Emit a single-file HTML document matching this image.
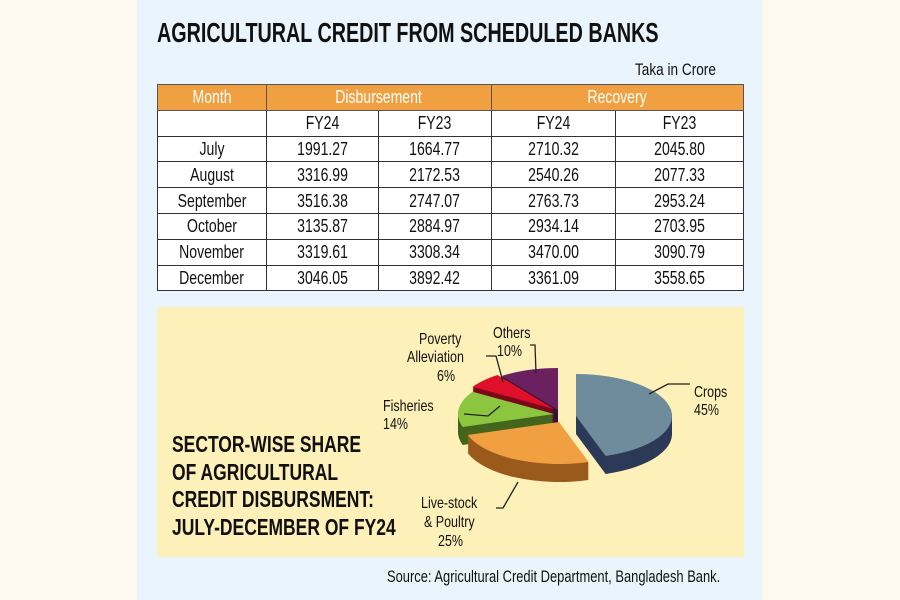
<!DOCTYPE html>
<html><head><meta charset="utf-8"><style>
body{margin:0;width:900px;height:600px;background:#fdf8f0;position:relative;overflow:hidden;font-family:"Liberation Sans",sans-serif;color:#111}
.panel{position:absolute;left:137px;top:0;width:625px;height:600px;background:#eaf4fc}
.t{position:absolute;white-space:nowrap;transform-origin:0 0}
table{position:absolute;left:157px;top:84px;border-collapse:collapse;background:#fff;font-size:18px}
td{border:1px solid #333;text-align:center;height:24.8px;padding:0;line-height:22px;white-space:nowrap}
td span{display:inline-block;transform:scaleX(.78)}
tr.h td{background:#f0a040;color:#fff;border-color:#555}
.yb{position:absolute;left:157px;top:307px;width:587px;height:250px;background:#fdf0b8}
.lbl{position:absolute;font-size:16px;text-align:center;line-height:18px;white-space:nowrap;transform:scaleX(.78);transform-origin:0 0}
</style></head><body>
<div class="panel"></div>
<div class="t" style="left:157px;top:17px;font-size:28px;font-weight:bold;transform:scaleX(.705)">AGRICULTURAL CREDIT FROM SCHEDULED BANKS</div>
<div class="t" style="left:635px;top:60px;font-size:17px;transform:scaleX(.8)">Taka in Crore</div>
<table>
<colgroup><col style="width:109px"><col style="width:112px"><col style="width:113px"><col style="width:124px"><col style="width:128px"></colgroup>
<tr class="h"><td><span>Month</span></td><td colspan="2"><span>Disbursement</span></td><td colspan="2"><span>Recovery</span></td></tr>
<tr><td></td><td><span>FY24</span></td><td><span>FY23</span></td><td><span>FY24</span></td><td><span>FY23</span></td></tr>
<tr><td><span>July</span></td><td><span>1991.27</span></td><td><span>1664.77</span></td><td><span>2710.32</span></td><td><span>2045.80</span></td></tr>
<tr><td><span>August</span></td><td><span>3316.99</span></td><td><span>2172.53</span></td><td><span>2540.26</span></td><td><span>2077.33</span></td></tr>
<tr><td><span>September</span></td><td><span>3516.38</span></td><td><span>2747.07</span></td><td><span>2763.73</span></td><td><span>2953.24</span></td></tr>
<tr><td><span>October</span></td><td><span>3135.87</span></td><td><span>2884.97</span></td><td><span>2934.14</span></td><td><span>2703.95</span></td></tr>
<tr><td><span>November</span></td><td><span>3319.61</span></td><td><span>3308.34</span></td><td><span>3470.00</span></td><td><span>3090.79</span></td></tr>
<tr><td><span>December</span></td><td><span>3046.05</span></td><td><span>3892.42</span></td><td><span>3361.09</span></td><td><span>3558.65</span></td></tr>
</table>
<div class="yb"></div>
<div class="t" style="left:172px;top:431px;font-size:23px;font-weight:bold;line-height:27.5px;transform:scaleX(.76)">SECTOR-WISE SHARE<br>OF AGRICULTURAL<br>CREDIT DISBURSMENT:<br>JULY-DECEMBER OF FY24</div>
<svg id="pie" width="900" height="600" style="position:absolute;left:0;top:0">
<g fill="none" stroke="#222" stroke-width="1.3">
<path d="M649,394 L668,384 L690,384"/>
<path d="M464,414 L488,416 L500,406"/>
<path d="M486,356 L496,356 L503,382"/>
<path d="M530,345 L535,345 L536,373"/>
<path d="M518,482 L503,508 L496,508"/>
</g>
</svg>
<div class="lbl" style="left:419px;top:331px">Poverty</div>
<div class="lbl" style="left:407px;top:349px">Alleviation</div>
<div class="lbl" style="left:437px;top:368px">6%</div>
<div class="lbl" style="left:493px;top:325px">Others</div>
<div class="lbl" style="left:497px;top:343px">10%</div>
<div class="lbl" style="left:694px;top:384px;text-align:left">Crops<br>45%</div>
<div class="lbl" style="left:383px;top:398px;text-align:left">Fisheries<br>14%</div>
<div class="lbl" style="left:421px;top:495px">Live-stock</div>
<div class="lbl" style="left:424px;top:514px">&amp; Poultry</div>
<div class="lbl" style="left:438px;top:533px">25%</div>
<div class="t" style="left:387px;top:567px;font-size:17px;transform:scaleX(.76)">Source: Agricultural Credit Department, Bangladesh Bank.</div>
<script>
(function(){
var svg=document.getElementById('pie'),ns='http://www.w3.org/2000/svg';
var cx=560,cy=413,rx=96,ry=42,D=18;
var s=[[0,162,'#6f8c9c','#2c3a58',16,3],[162,252,'#f0a040','#9a5a1c',-1,9],[252,302,'#8cc63f','#45651d',-6,1],[302,324,'#e0102a','#7a0a18',-6,-4],[324,360,'#6b2060','#3a1034',-2,-3]];
function pt(a,ox,oy,dy){var r=a*Math.PI/180;return [cx+ox+rx*Math.sin(r),cy+oy+dy-ry*Math.cos(r)];}
var order=[4,3,2,0,1];
var frag=[];
order.forEach(function(i){var q=s[i];for(var k=D;k>0;k-=1){frag.push(['s',q,k]);}});
order.forEach(function(i){frag.push(['t',s[i],0]);});
var first=svg.firstChild;
frag.forEach(function(f){var q=f[1];var p0=pt(q[0],q[4],q[5],f[2]),p1=pt(q[1],q[4],q[5],f[2]);var e=document.createElementNS(ns,'path');
e.setAttribute('d','M'+(cx+q[4])+','+(cy+q[5]+f[2])+' L'+p0+' A'+rx+','+ry+' 0 '+((q[1]-q[0])>180?1:0)+' 1 '+p1+' Z');
e.setAttribute('fill',f[0]=='s'?q[3]:q[2]);svg.insertBefore(e,first);});
})();
</script>
</body></html>
